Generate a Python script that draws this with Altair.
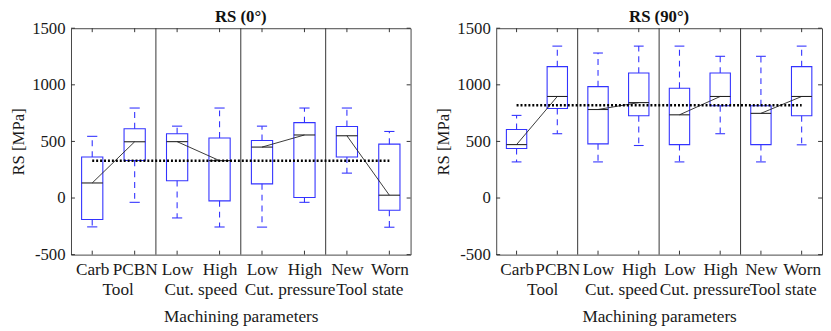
import altair as alt
import pandas as pd

categories = ["Carb", "PCBN", "Low", "High", "Low", "High", "New", "Worn"]
groups = ["Tool", "Tool", "Cut. speed", "Cut. speed", "Cut. pressure", "Cut. pressure", "Tool state", "Tool state"]
group_names = ["Tool", "Cut. speed", "Cut. pressure", "Tool state"]
positions = [1, 2, 3, 4, 5, 6, 7, 8]
group_label_pos_0 = [1.6, 3.55, 5.65, 7.53]
group_label_pos_90 = [1.63, 3.56, 5.62, 7.53]
divider_pos = [2.5, 4.5, 6.5]
y_ticks = [-500, 0, 500, 1000, 1500]

# RS (0 deg) box statistics [MPa]
rs0_upper = [545, 795, 635, 795, 635, 795, 795, 588]
rs0_q3 = [362, 612, 568, 530, 508, 666, 632, 476]
rs0_median = [133, 497, 498, 330, 450, 557, 550, 25]
rs0_q1 = [-190, 332, 153, -25, 125, 5, 362, -108]
rs0_lower = [-255, -38, -176, -256, -257, -38, 220, -258]
rs0_mean = 330

# RS (90 deg) box statistics [MPa]
rs90_upper = [730, 1342, 1281, 1342, 1342, 1252, 1252, 1342]
rs90_q3 = [606, 1161, 984, 1104, 970, 1104, 815, 1161]
rs90_median = [472, 897, 782, 843, 735, 897, 748, 897]
rs90_q1 = [437, 791, 478, 727, 472, 815, 472, 727]
rs90_lower = [319, 568, 319, 464, 319, 568, 319, 470]
rs90_mean = 820

BLUE = "#3333ff"
FONT = "Liberation Serif"
H = 230


def label_expr(glpos):
    parts = []
    for p, c in zip(positions, categories):
        parts.append(f"datum.value == {p} ? ['{c}', ''] : ")
    for p, g in zip(glpos, group_names):
        parts.append(f"datum.value == {p} ? ['', '{g}'] : ")
    return "".join(parts) + "''"


def panel(title, upper, q3, med, q1, lower, mean, glpos, width):
    df = pd.DataFrame({"pos": positions, "cat": categories, "group": groups,
                       "upper": upper, "q3": q3, "median": med, "q1": q1, "lower": lower})
    xs = alt.Scale(domain=[0.5, 8.5], nice=False, zero=False)
    ys = alt.Scale(domain=[-500, 1500], nice=False, zero=False)
    xaxis = alt.Axis(values=sorted(positions + glpos), labelExpr=label_expr(glpos),
                     title="Machining parameters", grid=False, ticks=False, tickSize=0, domain=False,
                     labelOverlap=False, labelFlush=False, labelBound=False, labelPadding=6,
                     labelFontSize=17.5, titleFontSize=17.5,
                     labelLineHeight=21, titlePadding=9)
    yaxis = alt.Axis(values=y_ticks, labelExpr="toString(datum.value)", title="RS [MPa]",
                     grid=False, ticks=False, tickSize=0, domain=False,
                     labelFlush=False, labelOverlap=False, labelPadding=6, titlePadding=4)
    X = lambda f: alt.X(f, type="quantitative", scale=xs, axis=xaxis)
    Y = lambda f: alt.Y(f, type="quantitative", scale=ys, axis=yaxis)
    base = alt.Chart(df).transform_calculate(
        xl="datum.pos - 0.25", xr="datum.pos + 0.25",
        cl="datum.pos - 0.12", cr="datum.pos + 0.12")

    dividers = alt.Chart(pd.DataFrame({"d": divider_pos})).mark_rule(
        color="#333333", strokeWidth=1).encode(x=X("d"))

    boxes = base.mark_rect(fillOpacity=0, stroke=BLUE, strokeWidth=1.1).encode(
        x=X("xl"), x2="xr", y=Y("q1"), y2="q3")
    wh_up = base.mark_rule(color=BLUE, strokeWidth=1.1, strokeDash=[6, 5]).encode(
        x=X("pos"), y=Y("q3"), y2="upper")
    wh_lo = base.mark_rule(color=BLUE, strokeWidth=1.1, strokeDash=[6, 5]).encode(
        x=X("pos"), y=Y("q1"), y2="lower")
    cap_up = base.mark_rule(color=BLUE, strokeWidth=1.1).encode(x=X("cl"), x2="cr", y=Y("upper"))
    cap_lo = base.mark_rule(color=BLUE, strokeWidth=1.1).encode(x=X("cl"), x2="cr", y=Y("lower"))
    medians = base.mark_rule(color="#222222", strokeWidth=1.1).encode(x=X("xl"), x2="xr", y=Y("median"))
    connect = base.mark_line(color="#222222", strokeWidth=0.9).encode(
        x=X("pos"), y=Y("median"), detail="group:N")

    mean_df = pd.DataFrame({"x1": [positions[0]], "x2": [positions[-1]], "m": [mean]})
    mean_line = alt.Chart(mean_df).mark_rule(color="black", strokeWidth=2.6, strokeDash=[2, 2]).encode(
        x=X("x1"), x2="x2", y=Y("m"))

    tk = 4.0 / (width / 8.0)
    tky = 4.0 / (H / 2000.0)
    ytk = alt.Chart(pd.DataFrame({"v": y_ticks})).transform_calculate(
        a="0.5", b=f"0.5 + {tk}", c=f"8.5 - {tk}", d="8.5")
    ytl = ytk.mark_rule(color="#333333").encode(x=X("a:Q"), x2="b:Q", y=Y("v"))
    ytr = ytk.mark_rule(color="#333333").encode(x=X("c:Q"), x2="d:Q", y=Y("v"))
    xtk = alt.Chart(pd.DataFrame({"p": positions})).transform_calculate(
        t1="1500", t2=f"1500 - {tky}", b1="-500", b2=f"-500 + {tky}")
    xtt = xtk.mark_rule(color="#333333").encode(x=X("p"), y=Y("t1:Q"), y2="t2:Q")
    xtb = xtk.mark_rule(color="#333333").encode(x=X("p"), y=Y("b1:Q"), y2="b2:Q")

    return alt.layer(dividers, ytl, ytr, xtt, xtb, boxes, wh_up, wh_lo, cap_up, cap_lo,
                     medians, connect, mean_line).properties(
        width=width, height=H, title=alt.TitleParams(title, offset=-7, frame="group"))


left = panel("RS (0°)", rs0_upper, rs0_q3, rs0_median, rs0_q1, rs0_lower, rs0_mean, group_label_pos_0, 345)
right = panel("RS (90°)", rs90_upper, rs90_q3, rs90_median, rs90_q1, rs90_lower, rs90_mean, group_label_pos_90, 331)

chart = alt.hconcat(left, right, spacing=23).properties(
    padding={"left": 1, "top": -3, "right": 0, "bottom": 0}
).configure_view(stroke="#444444", strokeWidth=1).configure_axis(
    labelFont=FONT, titleFont=FONT, labelFontSize=17, titleFontSize=17,
    titleFontWeight="normal", labelColor="#1a1a1a", titleColor="#1a1a1a"
).configure_title(font=FONT, fontSize=17, fontWeight="bold", color="#111111")

chart.save("out.html", embed_options={"renderer": "svg", "actions": False})
